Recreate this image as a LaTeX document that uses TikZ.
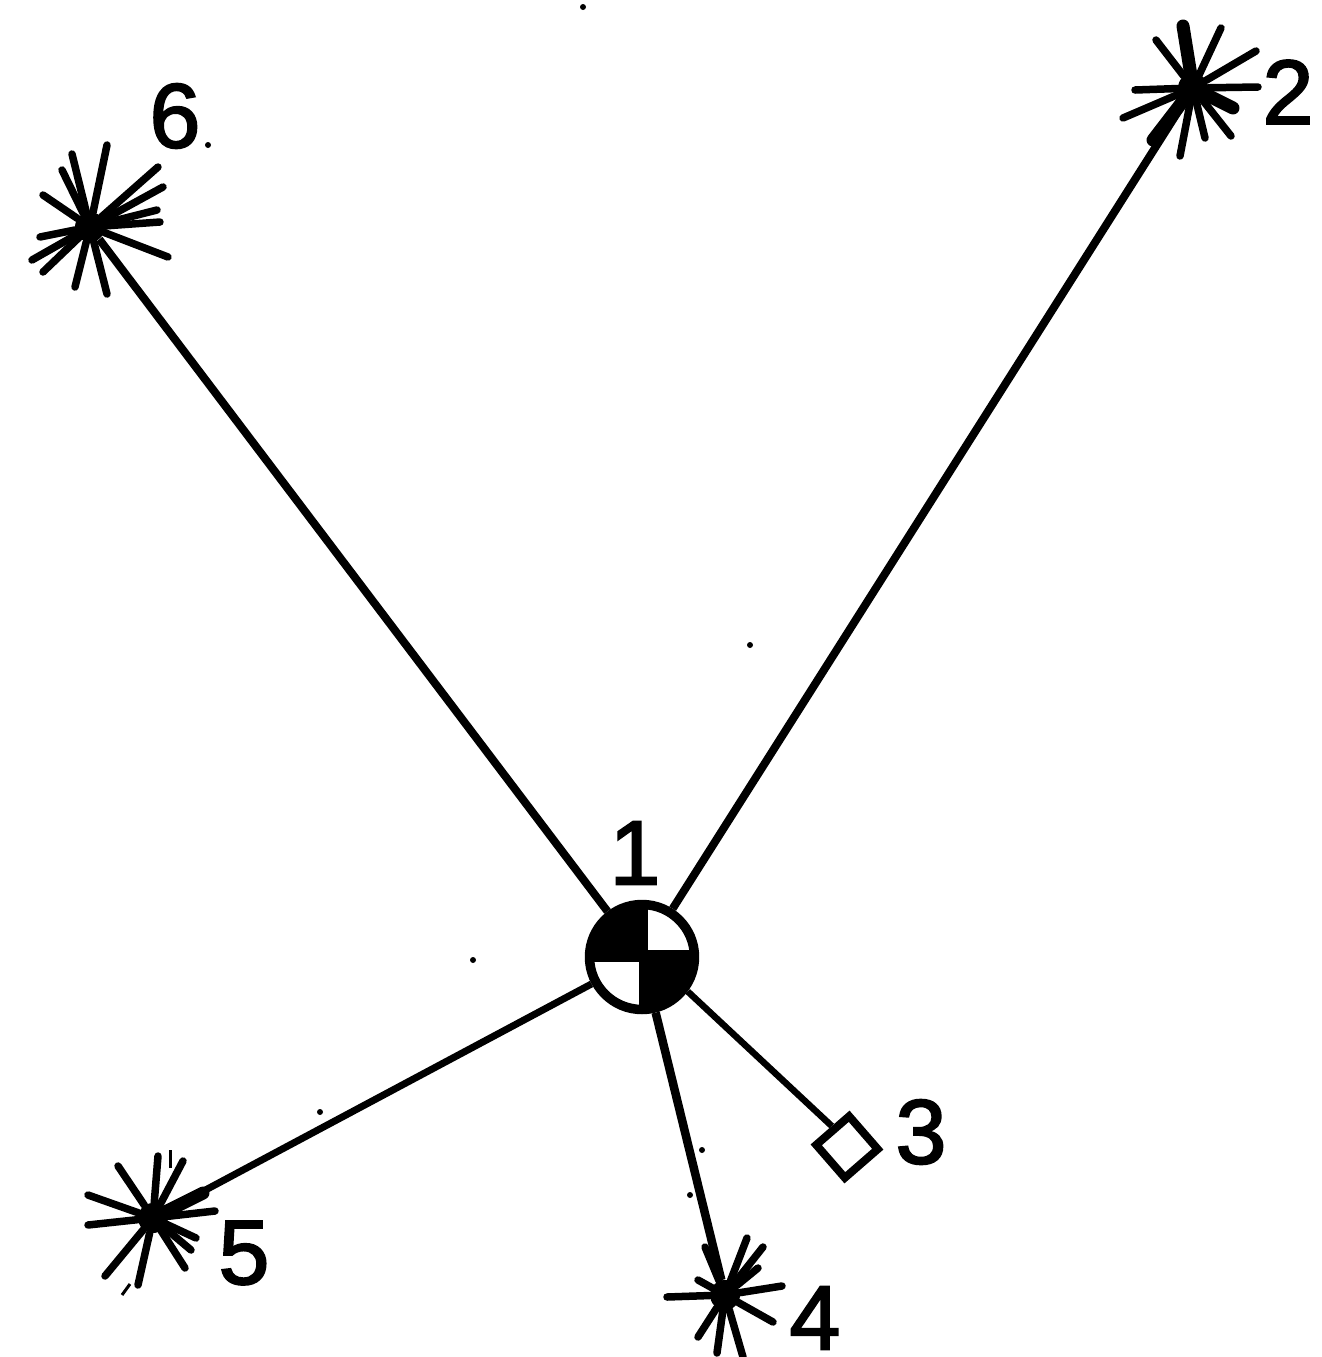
\documentclass[tikz,border=0pt]{standalone}
\usepackage{fontspec}
\setmainfont{Liberation Sans}
\newfontfamily\digitfont[FakeBold=2.2]{Liberation Sans}
\usetikzlibrary{shapes.geometric}

\begin{document}
\begin{tikzpicture}[
    x=0.02cm, y=-0.02cm,
    hubnode/.style={draw, circle, line width=0.19cm, minimum size=2.1cm, inner sep=0pt, fill=white},
    starcore/.style={circle, fill=black, minimum size=0.6cm, inner sep=0pt},
    boxnode/.style={draw, diamond, aspect=1, rotate=-4, line width=0.16cm, minimum size=1.3cm, inner sep=0pt, fill=white},
    bond/.style={line width=0.16cm},
    spike/.style={line width=0.15cm, line cap=round},
    fatspike/.style={line width=0.26cm, line cap=round},
    fleck/.style={line width=0.06cm},
    digit/.style={inner sep=0pt, font=\digitfont\fontsize{52}{52}\selectfont},
]
\useasboundingbox (0,0) rectangle (1322,1357);

% --- sites ---
\node[hubnode] (hub) at (642,957) {};
\node[starcore] (star2) at (1193,88) {};
\node[boxnode] (box3) at (847,1147) {};
\node[starcore] (star4) at (725,1295) {};
\node[starcore] (star5) at (153,1218) {};
\node[starcore] (star6) at (90,227) {};

% --- quadrants of the hub ---
\begin{scope}
\clip (hub) circle[radius=1.05cm];
\fill (hub) ++(6,5) rectangle ++(-60,-60);
\fill (hub) ++(-3,-7) rectangle ++(60,60);
\end{scope}

% --- bonds ---
\draw[bond] (hub) -- (star6);
\draw[bond] (hub) -- (star2);
\draw[bond, line width=0.14cm] (hub) -- (star5);
\draw[bond, line width=0.17cm] (hub) -- (star4);
\draw[bond, line width=0.13cm] (hub.-37) -- (box3.130);

% --- rays of the stars ---
\foreach \dx/\dy in {-37/-48,28/-60,63/-37,65/-1,38/48,12/50,-13/68,-70/30,-58/2}
    \draw[spike] (star2) -- ++(\dx,\dy);
\foreach \dx/\dy in {-10/-62,40/20,-40/52}
    \draw[fatspike] (star2) -- ++(\dx,\dy);
\foreach \dx/\dy in {-20/-48,22/-57,38/-48,33/-27,57/-9,48/27,18/62,-8/58,-27/42,-58/2,-27/-15}
    \draw[spike] (star4) -- ++(\dx,\dy);
\foreach \dx/\dy in {5/-62,30/-57,-35/-52,-65/-23,-65/7,-48/58,-15/67,32/50,38/32,43/20,62/-7}
    \draw[spike] (star5) -- ++(\dx,\dy);
\draw[fatspike] (star5) -- ++(50,-25);
\foreach \dx/\dy in {17/-82,-18/-73,-28/-57,-47/-32,-50/10,-58/33,-47/45,-15/60,17/67,78/30,70/-5,67/-17,73/-40,68/-60}
    \draw[spike] (star6) -- ++(\dx,\dy);

% --- labels ---
\node[digit] (lab1) at (635,853) {1};
\node[digit] (lab2) at (1288,92) {2};
\node[digit] (lab3) at (921,1132) {3};
\node[digit] (lab4) at (815,1318) {4};
\node[digit] (lab5) at (244,1253) {5};
\node[digit] (lab6) at (175,116) {6};

% --- specks ---
\foreach \px/\py in {583/7,750/645,473/960,320/1112,702/1150,690/1195,208/145}
    \fill (\px,\py) circle[radius=0.06cm];
\draw[fleck] (170,1150) -- (170,1168);
\draw[fleck] (122,1295) -- (130,1284);
\end{tikzpicture}
\end{document}
